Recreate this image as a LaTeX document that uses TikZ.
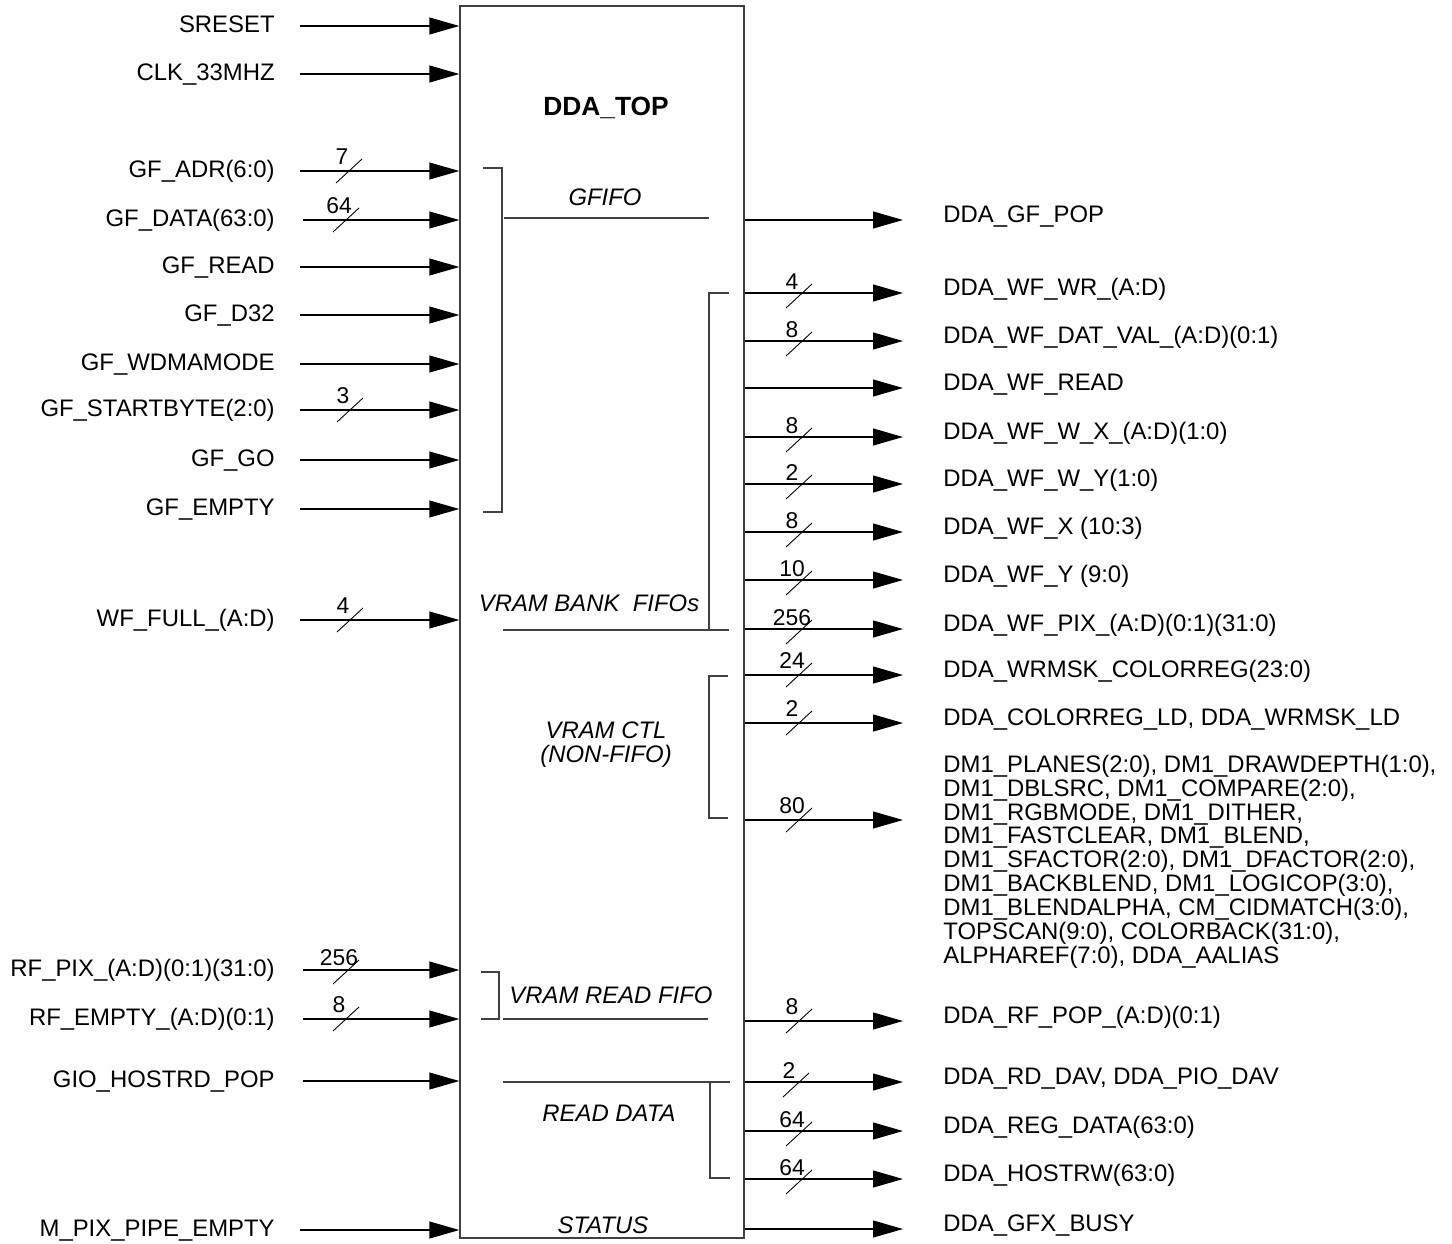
\documentclass[tikz,border=0pt]{standalone}
\usepackage{fontspec}
\setmainfont{Liberation Sans}
\usetikzlibrary{positioning,arrows.meta,calc}

\newcommand{\sigfont}{\fontsize{13.6pt}{13.6pt}\selectfont}
\newcommand{\widfont}{\fontsize{13pt}{13pt}\selectfont}

\tikzset{
  sig/.style={line width=0.7pt, -{Triangle[length=17pt,width=9.6pt]}},
  inl/.style={anchor=east, inner sep=0pt, text height=0.35cm, text depth=0.09cm, font=\sigfont},
  outl/.style={anchor=west, inner sep=0pt, text height=0.35cm, text depth=0.25cm, font=\sigfont},
  wid/.style={inner sep=0pt, font=\widfont},
  grp/.style={inner sep=0pt, font=\sigfont\itshape},
  brk/.style={line width=0.6pt, black!75},
  pics/bus/.style={code={
    \draw[line width=0.5pt] (-13,12) -- (13,-12);
    \node[wid] (-n) at (-7,-14) {#1};
  }}
}

\begin{document}
\begin{tikzpicture}[x=0.02cm,y=-0.02cm]
  \useasboundingbox (0,0) rectangle (1452,1243);

  \node[draw=black!75, line width=0.8pt, minimum width=5.68cm, minimum height=24.64cm, inner sep=0pt] (dda) at (602,622) {};
  \node[font=\fontsize{15pt}{15pt}\selectfont\bfseries] (title) at (606,108) {DDA\_TOP};

  % inputs
  \node[inl] (sreset) at (275,26) {SRESET};
  \node[inl] (clk) at (275,74) {CLK\_33MHZ};
  \node[inl] (gfadr) at (275,171) {GF\_ADR(6:0)};
  \node[inl] (gfdata) at (275,220) {GF\_DATA(63:0)};
  \node[inl] (gfread) at (275,267) {GF\_READ};
  \node[inl] (gfd32) at (275,315) {GF\_D32};
  \node[inl] (gfwdma) at (275,364) {GF\_WDMAMODE};
  \node[inl] (gfsb) at (275,410) {GF\_STARTBYTE(2:0)};
  \node[inl] (gfgo) at (275,460) {GF\_GO};
  \node[inl] (gfempty) at (275,509) {GF\_EMPTY};
  \node[inl] (wffull) at (275,620) {WF\_FULL\_(A:D)};
  \node[inl] (rfpix) at (275,970) {RF\_PIX\_(A:D)(0:1)(31:0)};
  \node[inl] (rfempty) at (275,1019) {RF\_EMPTY\_(A:D)(0:1)};
  \node[inl] (hostrd) at (275,1081) {GIO\_HOSTRD\_POP};
  \node[inl] (pipe) at (275,1230) {M\_PIX\_PIPE\_EMPTY};

  \draw[sig] ([xshift=0.5cm]sreset.east) -- (sreset -| dda.west);
  \draw[sig] ([xshift=0.5cm]clk.east) -- (clk -| dda.west);
  \draw[sig] ([xshift=0.5cm]gfadr.east) -- (gfadr -| dda.west);
  \draw[sig] ([xshift=0.56cm]gfdata.east) -- (gfdata -| dda.west);
  \draw[sig] ([xshift=0.5cm]gfread.east) -- (gfread -| dda.west);
  \draw[sig] ([xshift=0.5cm]gfd32.east) -- (gfd32 -| dda.west);
  \draw[sig] ([xshift=0.5cm]gfwdma.east) -- (gfwdma -| dda.west);
  \draw[sig] ([xshift=0.5cm]gfsb.east) -- (gfsb -| dda.west);
  \draw[sig] ([xshift=0.5cm]gfgo.east) -- (gfgo -| dda.west);
  \draw[sig] ([xshift=0.5cm]gfempty.east) -- (gfempty -| dda.west);
  \draw[sig] ([xshift=0.5cm]wffull.east) -- (wffull -| dda.west);
  \draw[sig] ([xshift=0.56cm]rfpix.east) -- (rfpix -| dda.west);
  \draw[sig] ([xshift=0.56cm]rfempty.east) -- (rfempty -| dda.west);
  \draw[sig] ([xshift=0.56cm]hostrd.east) -- (hostrd -| dda.west);
  \draw[sig] ([xshift=0.5cm]pipe.east) -- (pipe -| dda.west);

  \pic (wgfadr) at (349,171) {bus=7};
  \pic (wgfdata) at (346,220) {bus=64};
  \pic (wgfsb) at (350,410) {bus=3};
  \pic (wwffull) at (350,620) {bus=4};
  \pic (wrfpix) at (346,972) {bus=256};
  \pic (wrfempty) at (346,1019) {bus=8};

  % outputs
  \node[outl] (gfpop) at (943,220) {DDA\_GF\_POP};
  \node[outl] (wfwr) at (943,293) {DDA\_WF\_WR\_(A:D)};
  \node[outl] (wfdat) at (943,341) {DDA\_WF\_DAT\_VAL\_(A:D)(0:1)};
  \node[outl] (wfread) at (943,388) {DDA\_WF\_READ};
  \node[outl] (wfwx) at (943,437) {DDA\_WF\_W\_X\_(A:D)(1:0)};
  \node[outl] (wfwy) at (943,484) {DDA\_WF\_W\_Y(1:0)};
  \node[outl] (wfx) at (943,532) {DDA\_WF\_X (10:3)};
  \node[outl] (wfy) at (943,580) {DDA\_WF\_Y (9:0)};
  \node[outl] (wfpix) at (943,629) {DDA\_WF\_PIX\_(A:D)(0:1)(31:0)};
  \node[outl] (wrmsk) at (943,675) {DDA\_WRMSK\_COLORREG(23:0)};
  \node[outl] (crld) at (943,723) {DDA\_COLORREG\_LD, DDA\_WRMSK\_LD};
  \node[anchor=north west, inner sep=0pt, align=left, font=\fontsize{13.6pt}{12.08pt}\selectfont] (dm1) at (943,755)
    {DM1\_PLANES(2:0), DM1\_DRAWDEPTH(1:0),\\DM1\_DBLSRC, DM1\_COMPARE(2:0),\\DM1\_RGBMODE, DM1\_DITHER,\\DM1\_FASTCLEAR, DM1\_BLEND,\\DM1\_SFACTOR(2:0), DM1\_DFACTOR(2:0),\\DM1\_BACKBLEND, DM1\_LOGICOP(3:0),\\DM1\_BLENDALPHA, CM\_CIDMATCH(3:0),\\TOPSCAN(9:0), COLORBACK(31:0),\\ALPHAREF(7:0), DDA\_AALIAS};
  \coordinate (dm1in) at (903,820);
  \node[outl] (rfpop) at (943,1021) {DDA\_RF\_POP\_(A:D)(0:1)};
  \node[outl] (rddav) at (943,1082) {DDA\_RD\_DAV, DDA\_PIO\_DAV};
  \node[outl] (regdata) at (943,1131) {DDA\_REG\_DATA(63:0)};
  \node[outl] (hostrw) at (943,1179) {DDA\_HOSTRW(63:0)};
  \node[outl] (gfxbusy) at (943,1229) {DDA\_GFX\_BUSY};

  \draw[sig] (dda.east |- gfpop) -- ([xshift=-0.8cm]gfpop.west);
  \draw[sig] (dda.east |- wfwr) -- ([xshift=-0.8cm]wfwr.west);
  \draw[sig] (dda.east |- wfdat) -- ([xshift=-0.8cm]wfdat.west);
  \draw[sig] (dda.east |- wfread) -- ([xshift=-0.8cm]wfread.west);
  \draw[sig] (dda.east |- wfwx) -- ([xshift=-0.8cm]wfwx.west);
  \draw[sig] (dda.east |- wfwy) -- ([xshift=-0.8cm]wfwy.west);
  \draw[sig] (dda.east |- wfx) -- ([xshift=-0.8cm]wfx.west);
  \draw[sig] (dda.east |- wfy) -- ([xshift=-0.8cm]wfy.west);
  \draw[sig] (dda.east |- wfpix) -- ([xshift=-0.8cm]wfpix.west);
  \draw[sig] (dda.east |- wrmsk) -- ([xshift=-0.8cm]wrmsk.west);
  \draw[sig] (dda.east |- crld) -- ([xshift=-0.8cm]crld.west);
  \draw[sig] (dda.east |- dm1in) -- (dm1in);
  \draw[sig] (dda.east |- rfpop) -- ([xshift=-0.8cm]rfpop.west);
  \draw[sig] (dda.east |- rddav) -- ([xshift=-0.8cm]rddav.west);
  \draw[sig] (dda.east |- regdata) -- ([xshift=-0.8cm]regdata.west);
  \draw[sig] (dda.east |- hostrw) -- ([xshift=-0.8cm]hostrw.west);
  \draw[sig] (dda.east |- gfxbusy) -- ([xshift=-0.8cm]gfxbusy.west);

  \pic (wwfwr) at (799,296) {bus=4};
  \pic (wwfdat) at (799,344) {bus=8};
  \pic (wwfwx) at (799,440) {bus=8};
  \pic (wwfwy) at (799,487) {bus=2};
  \pic (wwfx) at (799,535) {bus=8};
  \pic (wwfy) at (799,583) {bus=10};
  \pic (wwfpix) at (799,632) {bus=256};
  \pic (wwrmsk) at (799,675) {bus=24};
  \pic (wcrld) at (799,723) {bus=2};
  \pic (wdm1) at (799,820) {bus=80};
  \pic (wrfpop) at (799,1021) {bus=8};
  \pic (wrddav) at (796,1085) {bus=2};
  \pic (wregdata) at (799,1134) {bus=64};
  \pic (whostrw) at (799,1182) {bus=64};

  % groups inside the block
  \node[grp] (gfifo) at (605,197) {GFIFO};
  \draw[brk] (483,168) -- (502,168) -- (502,512) -- (483,512);
  \draw[brk] (504,218) -- (709,218);

  \node[grp] (vbank) at (589,603) {VRAM BANK\ \ FIFOs};
  \draw[brk] (729,293) -- (709,293) -- (709,630);
  \draw[brk] (503,630) -- (729,630);

  \node[grp, align=center] (vctl) at (606,745) {VRAM CTL\\(NON-FIFO)};
  \draw[brk] (728,676) -- (709,676) -- (709,818) -- (728,818);

  \node[grp] (vread) at (611,995) {VRAM READ FIFO};
  \draw[brk] (481,972) -- (499,972) -- (499,1019) -- (481,1019);
  \draw[brk] (503,1019) -- (708,1019);

  \node[grp] (rdata) at (609,1113) {READ DATA};
  \draw[brk] (503,1082) -- (730,1082);
  \draw[brk] (710,1082) -- (710,1178) -- (730,1178);

  \node[grp] (status) at (603,1225) {STATUS};
\end{tikzpicture}
\end{document}
